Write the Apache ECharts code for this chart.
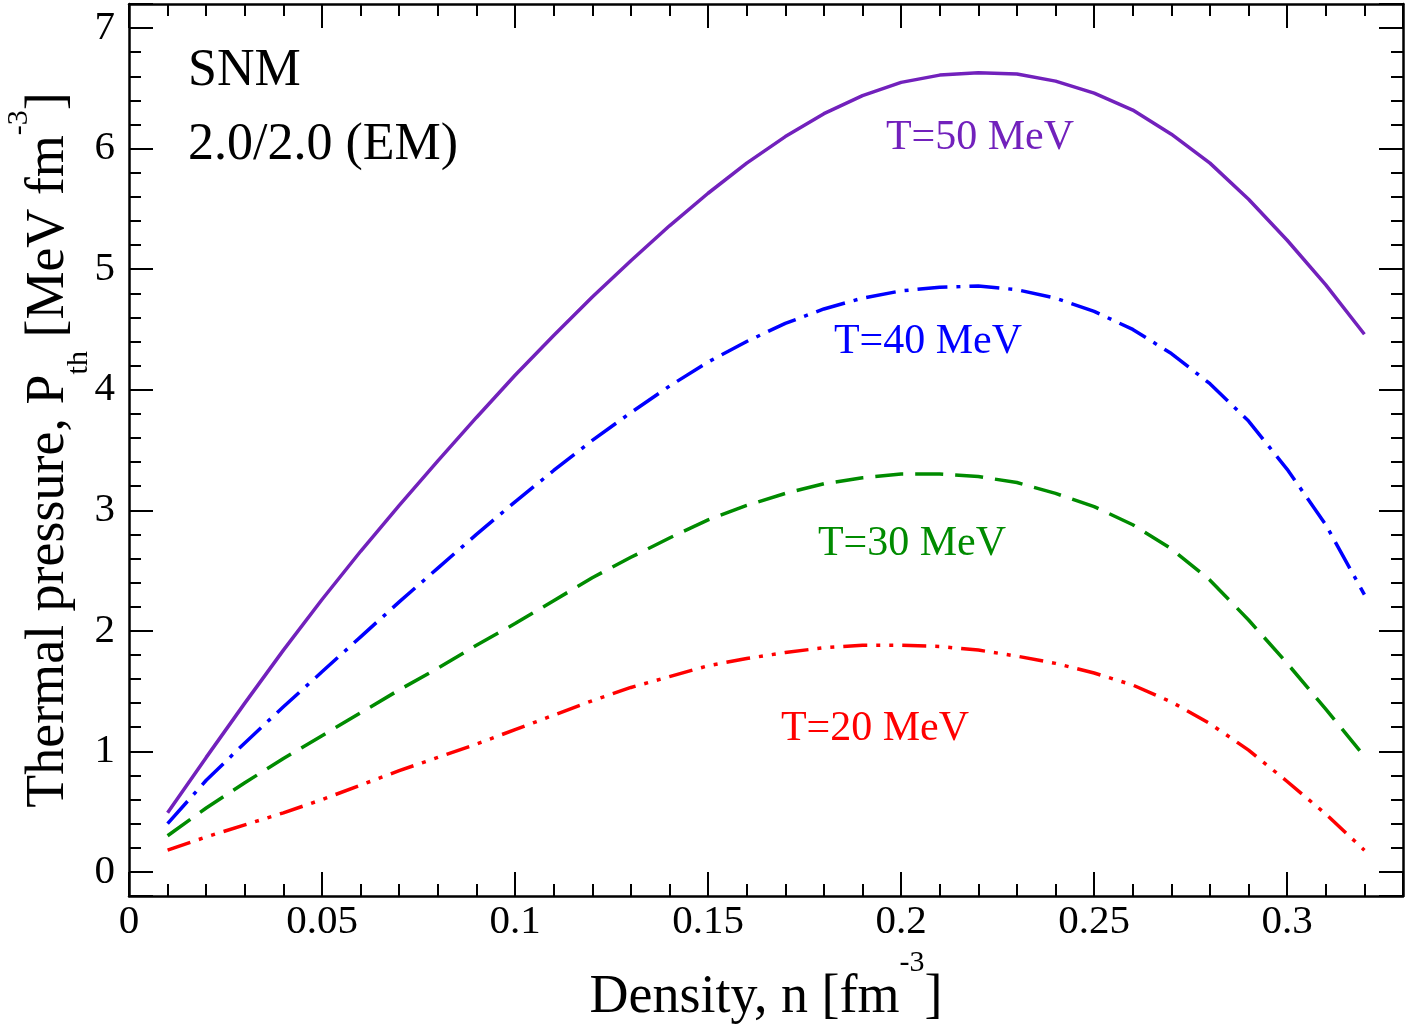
<!DOCTYPE html>
<html>
<head>
<meta charset="utf-8">
<title>Thermal pressure SNM</title>
<script src="https://cdn.jsdelivr.net/npm/echarts@6/dist/echarts.min.js"></script>
<style>
  html, body { margin: 0; padding: 0; background: #fff; }
  #main { width: 1409px; height: 1025px; }
</style>
</head>
<body>
<div id="main"></div>
<script>
// density n [fm^-3]
let density = [0.01, 0.02, 0.03, 0.04, 0.05, 0.06, 0.07, 0.08, 0.09, 0.10,
  0.11, 0.12, 0.13, 0.14, 0.15, 0.16, 0.17, 0.18, 0.19, 0.20,
  0.21, 0.22, 0.23, 0.24, 0.25, 0.26, 0.27, 0.28, 0.29, 0.30, 0.31, 0.32];
// thermal pressure [MeV fm^-3] for each temperature
let p50 = [0.49, 0.95, 1.40, 1.84, 2.26, 2.66, 3.04, 3.41, 3.77, 4.12,
  4.45, 4.77, 5.07, 5.36, 5.63, 5.88, 6.10, 6.29, 6.44, 6.55,
  6.61, 6.63, 6.62, 6.56, 6.46, 6.32, 6.12, 5.88, 5.58, 5.24, 4.87, 4.46];
let p40 = [0.40, 0.76, 1.07, 1.37, 1.66, 1.95, 2.24, 2.52, 2.80, 3.07,
  3.33, 3.58, 3.81, 4.03, 4.23, 4.40, 4.55, 4.67, 4.76, 4.82,
  4.85, 4.86, 4.83, 4.76, 4.65, 4.50, 4.30, 4.05, 3.74, 3.34, 2.88, 2.30];
let p30 = [0.30, 0.53, 0.74, 0.94, 1.13, 1.32, 1.51, 1.69, 1.88, 2.06,
  2.25, 2.44, 2.61, 2.77, 2.92, 3.04, 3.14, 3.22, 3.27, 3.30,
  3.30, 3.28, 3.23, 3.14, 3.03, 2.88, 2.68, 2.42, 2.09, 1.73, 1.35, 0.96];
let p20 = [0.18, 0.29, 0.39, 0.49, 0.60, 0.72, 0.84, 0.95, 1.06, 1.18,
  1.30, 1.42, 1.53, 1.62, 1.71, 1.77, 1.82, 1.86, 1.88, 1.88,
  1.87, 1.84, 1.79, 1.73, 1.65, 1.55, 1.41, 1.23, 1.01, 0.75, 0.48, 0.18];
let curveNames = ['T=50 MeV', 'T=40 MeV', 'T=30 MeV', 'T=20 MeV'];

let serif = '"Liberation Serif", "Times New Roman", serif';
let pair = function(arr) {
  return density.map(function(n, i) { return [n, arr[i]]; });
};

let tickLine = {color: '#000', width: 2};
let frameLine = {show: true, onZero: false, lineStyle: {color: '#000', width: 2.5}};
let nameRich = {
  sup: {fontFamily: serif, fontSize: 30, color: '#000', verticalAlign: 'top', lineHeight: 30},
  sub: {fontFamily: serif, fontSize: 30, color: '#000', verticalAlign: 'bottom', lineHeight: 30}
};

function xAxisOf(pos, withLabels) {
  return {
    type: 'value', position: pos, min: 0, max: 0.33, interval: 0.05,
    axisLine: frameLine,
    axisTick: {show: true, inside: true, length: 24, lineStyle: tickLine},
    minorTick: {show: true, splitNumber: 5, length: 12, lineStyle: tickLine},
    splitLine: {show: false},
    axisLabel: {show: withLabels, showMaxLabel: false, margin: 6, fontFamily: serif, fontSize: 41, color: '#000'}
  };
}
function yAxisOf(pos, withLabels) {
  return {
    type: 'value', position: pos, min: -0.2, max: 7.2, splitNumber: 7,
    axisLine: frameLine,
    axisTick: {show: true, inside: true, length: 24, lineStyle: tickLine},
    minorTick: {show: true, splitNumber: 5, length: 12, lineStyle: tickLine},
    splitLine: {show: false},
    axisLabel: {
      show: withLabels, margin: 14, fontFamily: serif, fontSize: 41, color: '#000',
      formatter: function(v) { return Math.abs(v - Math.round(v)) < 1e-6 ? String(Math.round(v)) : ''; }
    }
  };
}

let xMain = xAxisOf('bottom', true);
xMain.name = 'Density, n [fm{sup|-3}]';
xMain.nameLocation = 'middle';
xMain.nameGap = 50;
xMain.nameTextStyle = {fontFamily: serif, fontSize: 54, color: '#000', lineHeight: 100, rich: nameRich};

let yMain = yAxisOf('left', true);
yMain.name = 'Thermal pressure, P{sub|th} [MeV fm{sup|-3}]';
yMain.nameLocation = 'middle';
yMain.nameGap = 35;
yMain.nameMoveOverlap = false;
yMain.nameTextStyle = {fontFamily: serif, fontSize: 54, color: '#000', lineHeight: 90, rich: nameRich};

let xTop = xAxisOf('top', false);
let yRight = yAxisOf('right', false);

let lineSeries = function(name, arr, color, type) {
  return {
    name: name, type: 'line', xAxisIndex: 0, yAxisIndex: 0,
    data: pair(arr), showSymbol: false, smooth: false, silent: true,
    lineStyle: {color: color, width: 3.5, type: type}
  };
};

// curve labels and the model tag
let textAt = function(txt, x, y, size, color, align) {
  return {
    type: 'text', x: x, y: y, silent: true,
    style: {text: txt, font: size + 'px ' + serif, fill: color, align: align, verticalAlign: 'middle'}
  };
};

let chart = echarts.init(document.getElementById('main'), null, {renderer: 'canvas'});
chart.setOption({
  backgroundColor: '#fff',
  animation: false,
  grid: {left: 129, right: 6, top: 4, bottom: 129, containLabel: false, outerBoundsMode: 'none'},
  xAxis: [xMain, xTop],
  yAxis: [yMain, yRight],
  series: [
    lineSeries(curveNames[0], p50, '#7221bc', 'solid'),
    lineSeries(curveNames[1], p40, '#0000ff', [30, 9, 4, 9]),
    lineSeries(curveNames[2], p30, '#008b00', [28, 12]),
    lineSeries(curveNames[3], p20, '#ff0000', [24, 9, 4, 9, 4, 9])
  ],
  graphic: [
    textAt('SNM', 188, 71, 52, '#000', 'left'),
    textAt('2.0/2.0 (EM)', 188, 145, 52, '#000', 'left'),
    textAt(curveNames[0], 980, 138, 42, '#7221bc', 'center'),
    textAt(curveNames[1], 928, 342, 42, '#0000ff', 'center'),
    textAt(curveNames[2], 912, 544, 42, '#008b00', 'center'),
    textAt(curveNames[3], 875, 729, 42, '#ff0000', 'center')
  ]
});
</script>
</body>
</html>
